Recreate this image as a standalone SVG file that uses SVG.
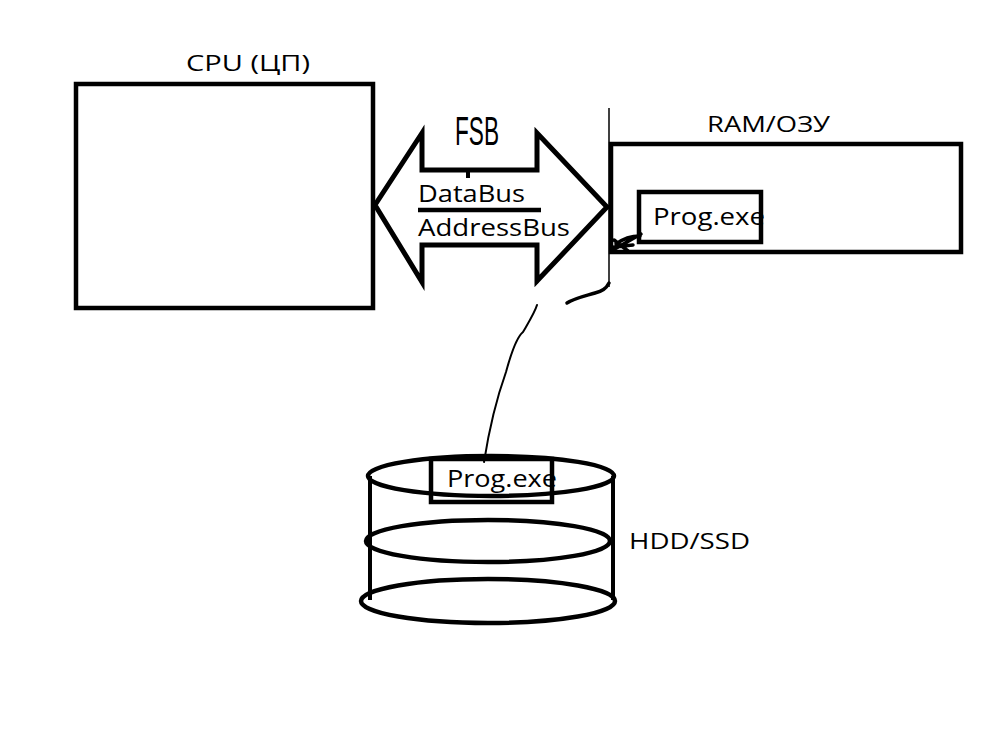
<svg xmlns="http://www.w3.org/2000/svg" width="994" height="750" viewBox="0 0 994 750">
<style>
.box{fill:none;stroke:#000;stroke-width:4.5}
.thin{fill:none;stroke:#000;stroke-width:2;stroke-linecap:round;stroke-linejoin:round}
.lbl{font-family:"Open Sans","Liberation Sans",sans-serif;font-size:22px;fill:#000}
.big{font-family:"Open Sans","Liberation Sans",sans-serif;font-size:24px;fill:#000}
</style>
<rect width="994" height="750" fill="#fff"/>
<g id="cpu">
<rect class="box" x="76" y="84" width="297" height="224"/>
<text class="lbl" x="186" y="71" textLength="124" lengthAdjust="spacingAndGlyphs">CPU  (ЦП)</text>
</g>
<g id="fsb">
<path class="box" style="stroke-width:5;stroke-linejoin:miter" d="M422,133 L375,205 L422,282 L422,245 L537,245 L537,281 L607,207 L537,133 L537,170 L422,170 Z"/>
<line x1="468" y1="170" x2="468" y2="178" stroke="#000" stroke-width="4"/>
<text x="455" y="145" font-family="Liberation Sans, sans-serif" font-size="40" textLength="44" lengthAdjust="spacingAndGlyphs">FSB</text>
<text class="big" x="418" y="202" textLength="107" lengthAdjust="spacingAndGlyphs">DataBus</text>
<line x1="418" y1="210" x2="541" y2="210" stroke="#000" stroke-width="4.5"/>
<text class="big" x="418" y="236" textLength="152" lengthAdjust="spacingAndGlyphs">AddressBus</text>
</g>
<g id="ram">
<line x1="609" y1="108" x2="609" y2="287" stroke="#000" stroke-width="1.5"/>
<rect class="box" x="611" y="144" width="350" height="108"/>
<text class="lbl" x="707" y="132" textLength="123" lengthAdjust="spacingAndGlyphs">RAM/ОЗУ</text>
<rect class="box" x="639" y="192" width="122" height="50"/>
<text class="big" x="653" y="225" textLength="112" lengthAdjust="spacingAndGlyphs">Prog.exe</text>
<path class="thin" style="stroke-width:3.5" d="M613,250 L641,234 M614,240 L628,251 M616,244 C624,238 632,236 640,236 M614,247 L633,245"/>
</g>
<g id="hdd">
<line x1="370" y1="476" x2="370" y2="600" stroke="#000" stroke-width="4"/>
<line x1="613" y1="476" x2="613" y2="600" stroke="#000" stroke-width="4"/>
<ellipse class="box" cx="491" cy="476" rx="123" ry="20"/>
<ellipse class="box" cx="488" cy="541" rx="122" ry="21"/>
<ellipse class="box" cx="488" cy="601" rx="127" ry="22"/>
<rect class="box" x="431" y="459" width="121" height="43"/>
<text class="big" x="447" y="487" textLength="110" lengthAdjust="spacingAndGlyphs">Prog.exe</text>
<text class="lbl" x="629" y="549" textLength="121" lengthAdjust="spacingAndGlyphs">HDD/SSD</text>
</g>
<g id="connectors">
<path class="thin" d="M484,462 C489,430 496,400 506,372 C512,350 518,336 523,332 C530,320 535,312 537,305"/>
<circle cx="537" cy="282" r="1.5" fill="#000"/>
<path d="M567,303 C575,298 585,296 595,293 C602,291 606,289 609,283" fill="none" stroke="#000" stroke-width="3.5" stroke-linecap="round"/>
</g>
</svg>
